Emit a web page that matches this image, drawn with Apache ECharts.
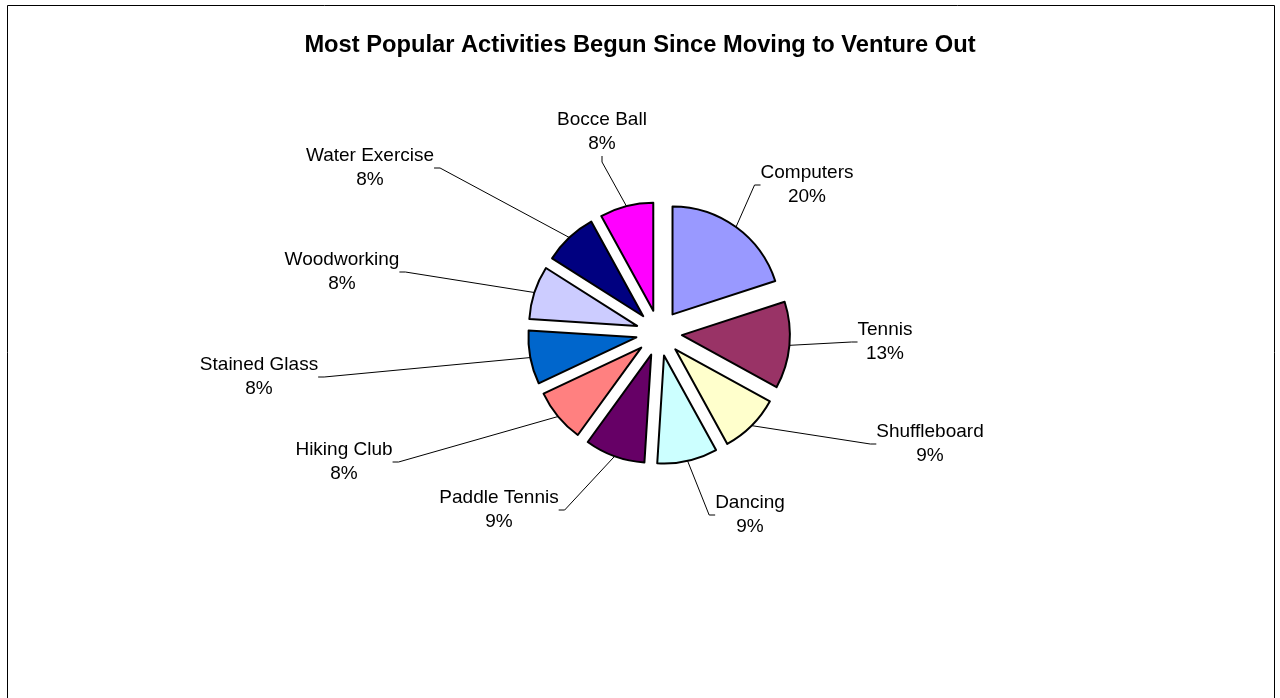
<!DOCTYPE html>
<html>
<head>
<meta charset="utf-8">
<script src="https://cdn.jsdelivr.net/npm/echarts@6/dist/echarts.min.js"></script>
<style>
  html, body { margin: 0; padding: 0; background: #ffffff; }
  #chart { width: 1280px; height: 698px; }
</style>
</head>
<body>
<div id="chart"></div>
<script>
// Activities, clockwise from 12 o'clock
const activities = ['Computers', 'Tennis', 'Shuffleboard', 'Dancing', 'Paddle Tennis',
  'Hiking Club', 'Stained Glass', 'Woodworking', 'Water Exercise', 'Bocce Ball'];
// Share of residents (percent)
const shares = [20, 13, 9, 9, 9, 8, 8, 8, 8, 8];
const sliceColors = ['#9999FF', '#993366', '#FFFFCC', '#CCFFFF', '#660066',
  '#FF8080', '#0066CC', '#CCCCFF', '#000080', '#FF00FF'];

// Layout: pie centre, how far every slice is pulled out, and where each
// label block sits relative to the pie centre (px)
const pieCenter = [659, 333];
const pieRadius = 108;
const explode = 23;
const labelOffsets = [[148, -148], [226, 9], [271, 111], [91, 182], [-160, 177],
  [-315, 129], [-400, 44], [-317, -61], [-289, -165], [-57, -201]];

const chart = echarts.init(document.getElementById('chart'), null, { renderer: 'canvas' });

const total = shares.reduce((a, b) => a + b, 0);

// Each slice gets its own pie series whose centre is pushed out along the
// slice's mid-angle; the other slices of that series stay invisible so the
// angles still come from the full set of shares.
const series = [];
let cumulative = 0;
activities.forEach((activity, k) => {
  const midFrac = (cumulative + shares[k] / 2) / total;
  cumulative += shares[k];
  const ang = midFrac * 2 * Math.PI; // clockwise from 12 o'clock
  const cx = pieCenter[0] + explode * Math.sin(ang);
  const cy = pieCenter[1] - explode * Math.cos(ang);

  series.push({
    type: 'pie',
    name: activity,
    center: [cx, cy],
    radius: pieRadius,
    startAngle: 90,
    clockwise: true,
    avoidLabelOverlap: false,
    emphasis: { disabled: true },
    labelLayout: function (params) {
      if (params.dataIndex !== k) return {};
      const o = labelOffsets[k];
      return {
        x: pieCenter[0] + o[0],
        y: pieCenter[1] + o[1],
        align: 'center',
        verticalAlign: 'middle',
        hideOverlap: false
      };
    },
    data: activities.map((name, i) => {
      const own = i === k;
      return {
        name: name,
        value: shares[i],
        itemStyle: own
          ? { color: sliceColors[i], borderColor: '#000000', borderWidth: 2 }
          : { color: 'rgba(0,0,0,0)', borderWidth: 0 },
        label: own ? {
          show: true,
          position: 'outside',
          formatter: p => p.name + '\n' + Math.round(p.percent) + '%',
          fontFamily: 'Liberation Sans, Arial, sans-serif',
          fontSize: 19,
          lineHeight: 24,
          color: '#000000',
          align: 'center'
        } : { show: false },
        labelLine: own ? {
          show: true,
          length: 10,
          length2: 6,
          smooth: false,
          lineStyle: { color: '#000000', width: 1 }
        } : { show: false }
      };
    })
  });
});

chart.setOption({
  animation: false,
  backgroundColor: '#ffffff',
  title: {
    text: 'Most Popular Activities Begun Since Moving to Venture Out',
    left: 'center',
    top: 28.5,
    textStyle: {
      fontFamily: 'Liberation Sans, Arial, sans-serif',
      fontSize: 23.7,
      fontWeight: 'bold',
      color: '#000000'
    }
  },
  graphic: [{
    type: 'rect',
    silent: true,
    shape: { x: 7.5, y: 5.5, width: 1267, height: 760 },
    style: { fill: 'none', stroke: '#000000', lineWidth: 1 }
  }],
  series: series
});
</script>
</body>
</html>
